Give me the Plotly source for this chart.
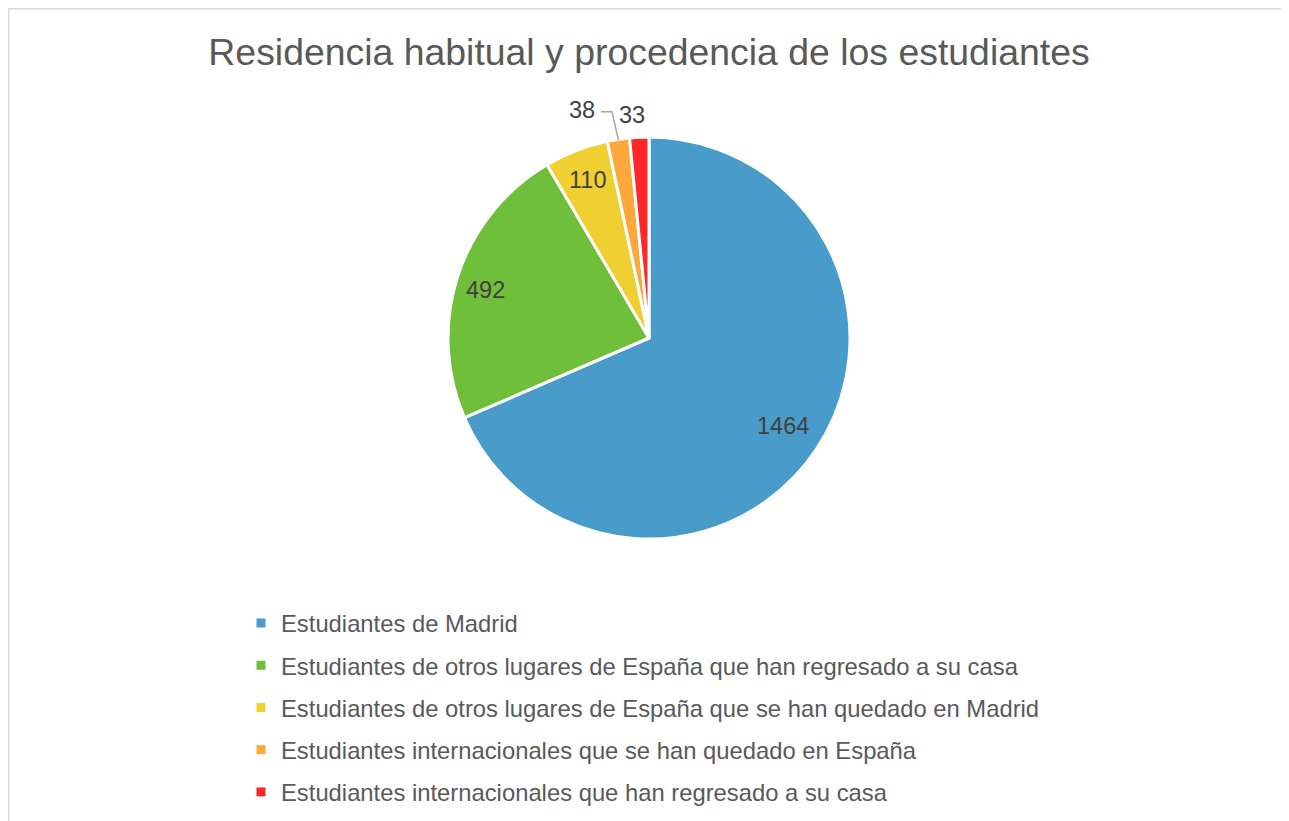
import math
import plotly.graph_objects as go

labels = [
    "Estudiantes de Madrid",
    "Estudiantes de otros lugares de España que han regresado a su casa",
    "Estudiantes de otros lugares de España que se han quedado en Madrid",
    "Estudiantes internacionales que se han quedado en España",
    "Estudiantes internacionales que han regresado a su casa",
]
values = [1464, 492, 110, 38, 33]
colors = ["#499BC9", "#70BF3B", "#F0D030", "#FDA83A", "#FE2828"]

# label placement style (fraction of radius, angular nudge in degrees)
label_radius = [0.80, 0.85, 0.85, 1.19, 1.12]
label_nudge = [0, -1.6, 0, -7.6, -1.6]
leader = [False, False, False, True, False]

W, H = 1281, 813
CX, CY, R = 641, 330, 200
FONT = "Liberation Sans, Arial, sans-serif"


def px(x):
    return x / W


def py(y):
    return 1 - y / H


fig = go.Figure()
fig.add_trace(go.Pie(
    labels=labels,
    values=values,
    sort=False,
    direction="clockwise",
    rotation=0,
    marker=dict(colors=colors, line=dict(color="white", width=3)),
    textinfo="none",
    showlegend=False,
    hoverinfo="label+value",
    domain=dict(x=[px(CX - R - 1), px(CX + R + 1)], y=[py(CY + R + 1), py(CY - R - 1)]),
))

for i, (lab, col) in enumerate(zip(labels, colors)):
    fig.add_trace(go.Scatter(
        x=[None], y=[None], mode="markers", name=lab,
        marker=dict(symbol="square", size=9, color=col),
        legendgroup=f"g{i}", showlegend=True,
    ))

total = sum(values)
annotations = []
shapes = [dict(
    type="rect", xref="paper", yref="paper",
    x0=px(0.75), x1=1.02, y0=-0.02, y1=py(0.75),
    line=dict(color="#D9D9D9", width=1.5), layer="below",
)]
cum = 0
for v, rf, nd, ld in zip(values, label_radius, label_nudge, leader):
    mid = (cum + v / 2) / total * 360
    cum += v
    th = math.radians(mid + nd)
    lx = CX + rf * R * math.sin(th)
    ly = CY - rf * R * math.cos(th)
    annotations.append(dict(
        x=px(lx), y=py(ly), xref="paper", yref="paper", text=str(v),
        showarrow=False, xanchor="center", yanchor="middle",
        font=dict(family=FONT, size=23.5, color="#404040"),
    ))
    if ld:
        tm = math.radians(mid)
        ex = CX + R * math.sin(tm)
        ey = CY - R * math.cos(tm)
        sx, sy = lx + 19, ly + 2
        path = f"M {px(sx)},{py(sy)} L {px(sx + 11)},{py(sy)} L {px(ex)},{py(ey)}"
        shapes.append(dict(type="path", xref="paper", yref="paper", path=path,
                           line=dict(color="#A6A6A6", width=1.5)))

fig.update_layout(
    width=W, height=H,
    margin=dict(l=0, r=0, t=0, b=0),
    paper_bgcolor="white", plot_bgcolor="white",
    xaxis=dict(visible=False), yaxis=dict(visible=False),
    title=dict(
        text="Residencia habitual y procedencia de los estudiantes",
        x=px(CX), xanchor="center", y=py(44), yanchor="middle",
        font=dict(family=FONT, size=37.4, color="#595959"),
    ),
    legend=dict(
        x=px(233), xanchor="left",
        y=py(593), yanchor="top",
        font=dict(family=FONT, size=23.8, color="#595959"),
        tracegroupgap=8.3,
        bgcolor="rgba(0,0,0,0)",
    ),
    annotations=annotations,
    shapes=shapes,
)

fig.write_html("out.html")
